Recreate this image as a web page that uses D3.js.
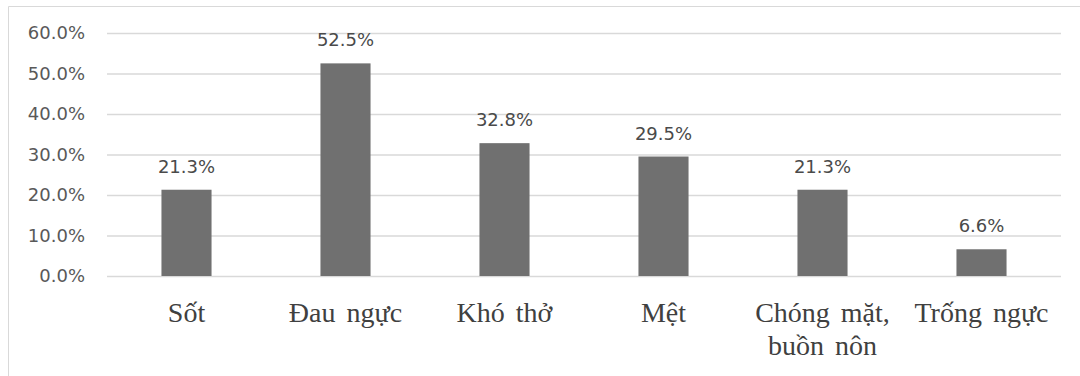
<!DOCTYPE html>
<html>
<head>
<meta charset="utf-8">
<script src="https://cdn.jsdelivr.net/npm/d3@7"></script>
<style>
  body { margin: 0; background: #fff; }
  svg { display: block; }
</style>
</head>
<body>
<svg id="chart" width="1080" height="376"></svg>
<script>
      // values
      var categories = ['Sốt', 'Đau ngực', 'Khó thở', 'Mệt', 'Chóng mặt, buồn nôn', 'Trống ngực'];
      var labelLines = [['Sốt'], ['Đau ngực'], ['Khó thở'], ['Mệt'], ['Chóng mặt,', 'buồn nôn'], ['Trống ngực']];
      var values = [21.3, 52.5, 32.8, 29.5, 21.3, 6.6];
      var yTicks = [0, 10, 20, 30, 40, 50, 60];

      var width = 1080;
      var height = 376;
      var margin = { top: 33, bottom: 100, right: 19, left: 107 };
      var innerWidth = width - margin.left - margin.right;
      var innerHeight = height - margin.top - margin.bottom;

      var svg = d3.select('#chart');

      // outer frame (only top and left edges are inside the picture)
      svg.append('path')
         .attr('d', 'M8.5,' + height + 'V6.5H' + width)
         .style('fill', 'none')
         .style('stroke', '#d9d9d9');

      var xScale = d3.scaleBand()
                     .domain(categories)
                     .range([0, innerWidth])
                     .paddingInner(0.685)
                     .paddingOuter(0.3425);

      var yScale = d3.scaleLinear()
                     .domain([0, 60])
                     .range([innerHeight, 0]);

      const g = svg.append('g')
              .attr('transform', 'translate(' + margin.left + ', ' + margin.top + ')');

      // gridlines + tick labels
      var yAxis = d3.axisLeft(yScale)
                    .tickValues(yTicks)
                    .tickSize(-innerWidth)
                    .tickPadding(22)
                    .tickFormat(d => d.toFixed(1) + '%');
      var ya = g.append('g').call(yAxis);
      ya.select('.domain').remove();
      ya.selectAll('line').style('stroke', '#d9d9d9').style('stroke-width', 1.3);
      ya.selectAll('text')
        .style('font-family', 'DejaVu Sans')
        .style('font-size', '18px')
        .style('fill', '#595959');

      // bars
      g.selectAll('rect.bar')
       .data(values)
       .enter()
       .append('rect')
       .attr('class', 'bar')
       .attr('x', (d, i) => xScale(categories[i]))
       .attr('y', d => yScale(d))
       .attr('width', xScale.bandwidth())
       .attr('height', d => innerHeight - yScale(d))
       .style('fill', '#707070');

      // value labels
      g.selectAll('text.val')
       .data(values)
       .enter()
       .append('text')
       .attr('class', 'val')
       .attr('x', (d, i) => xScale(categories[i]) + xScale.bandwidth() / 2)
       .attr('y', d => yScale(d) - 17)
       .attr('text-anchor', 'middle')
       .style('font-family', 'DejaVu Sans')
       .style('font-size', '18px')
       .style('fill', '#4a4a4a')
       .text(d => d.toFixed(1) + '%');

      // category labels
      var cat = g.selectAll('text.cat')
       .data(labelLines)
       .enter()
       .append('text')
       .attr('class', 'cat')
       .attr('text-anchor', 'middle')
       .style('font-family', 'Liberation Serif')
       .style('font-size', '28px')
       .style('fill', '#404040');
      cat.each(function(lines, i) {
        var cx = xScale(categories[i]) + xScale.bandwidth() / 2;
        d3.select(this).selectAll('tspan')
          .data(lines)
          .enter()
          .append('tspan')
          .attr('x', cx)
          .attr('y', (d, j) => innerHeight + 46 + j * 33)
          .style('word-spacing', '4px')
          .text(d => d);
      });
</script>
</body>
</html>
